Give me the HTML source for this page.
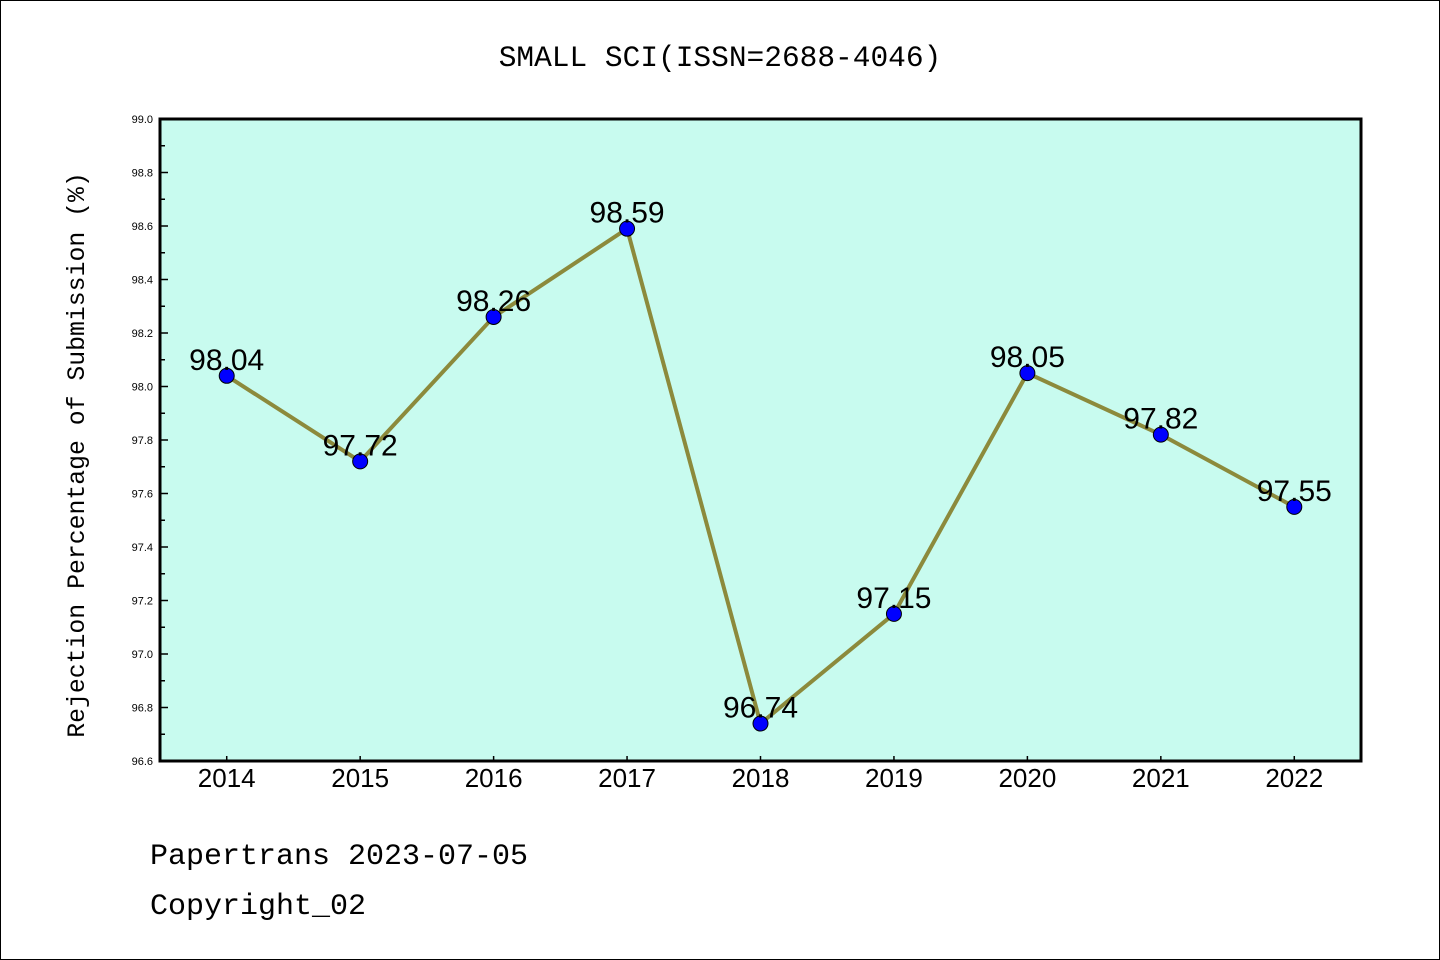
<!DOCTYPE html>
<html><head><meta charset="utf-8"><style>
html,body{margin:0;padding:0;background:#fff;}
svg{display:block;font-family:"Liberation Sans","DejaVu Sans",sans-serif;}
</style></head><body>
<svg id="chart" width="1440" height="960" viewBox="0 0 1440 960">
<rect x="0.5" y="0.5" width="1439" height="959" fill="#fff" stroke="#000" stroke-width="1"/>
<text x="720" y="66" text-anchor="middle" font-family="Liberation Mono, monospace" font-size="29.5">SMALL SCI(ISSN=2688-4046)</text>
<rect x="160" y="119" width="1201" height="642" fill="#c8fbef"/>
<g id="marks"></g>
<rect x="160" y="119" width="1201" height="642" fill="none" stroke="#000" stroke-width="3"/>
<text transform="translate(84,455) rotate(-90)" text-anchor="middle" font-family="Liberation Mono, monospace" font-size="24.8">Rejection Percentage of Submission (%)</text>
<text x="150" y="864" font-family="Liberation Mono, monospace" font-size="30">Papertrans 2023-07-05</text>
<text x="150" y="914" font-family="Liberation Mono, monospace" font-size="30">Copyright_02</text>
</svg>
<script>
const categories = ["2014","2015","2016","2017","2018","2019","2020","2021","2022"];
const values = [98.04,97.72,98.26,98.59,96.74,97.15,98.05,97.82,97.55];
const yTicks = [96.6,96.8,97.0,97.2,97.4,97.6,97.8,98.0,98.2,98.4,98.6,98.8,99.0];
const yTickLabels = ["96.6","96.8","97.0","97.2","97.4","97.6","97.8","98.0","98.2","98.4","98.6","98.8","99.0"];

const L=160,R=1361,T=119,B=761,yMin=96.6,yMax=99.0;
const xs=i=>L+(i+0.5)*(R-L)/categories.length;
const ys=v=>B-(v-yMin)/(yMax-yMin)*(B-T);
const NS="http://www.w3.org/2000/svg";
const g=document.getElementById('marks');
function mk(t,a){const e=document.createElementNS(NS,t);for(const k in a)e.setAttribute(k,a[k]);g.appendChild(e);return e;}

yTicks.forEach((v,i)=>{
  const y=ys(v);
  const t=mk('line',{x1:L,x2:L+8,y1:y,y2:y,stroke:'#000','stroke-width':1.5});
  
  
  const lb=mk('text',{x:L-7,y:y+4,'text-anchor':'end','font-size':11});
  lb.textContent=yTickLabels[i];
  
  
  if(i<yTicks.length-1){
    const ym=ys(v+0.1);
    const m=mk('line',{x1:L,x2:L+5,y1:ym,y2:ym,stroke:'#000','stroke-width':1.5});
    
    
  }
});
categories.forEach((c,i)=>{
  const x=xs(i);
  const t=mk('line',{x1:x,x2:x,y1:B,y2:B-5,stroke:'#000','stroke-width':1.5});
  
  
  const lb=mk('text',{x:x,y:B+26,'text-anchor':'middle','font-size':26});
  lb.textContent=c;
  
  
});
const line=mk('polyline',{points:values.map((v,i)=>xs(i)+','+ys(v)).join(' '),fill:'none',stroke:'#8c8a3c','stroke-width':4,'stroke-linejoin':'round'});


values.forEach((v,i)=>{
  const c=mk('circle',{cx:xs(i),cy:ys(v),r:7.5,fill:'#0000ff',stroke:'#000','stroke-width':1});
  
  
  const t=mk('text',{x:xs(i),y:ys(v)-6,'text-anchor':'middle','font-size':30});
  t.textContent=v.toFixed(2);
  
  
});
</script>
</body></html>
